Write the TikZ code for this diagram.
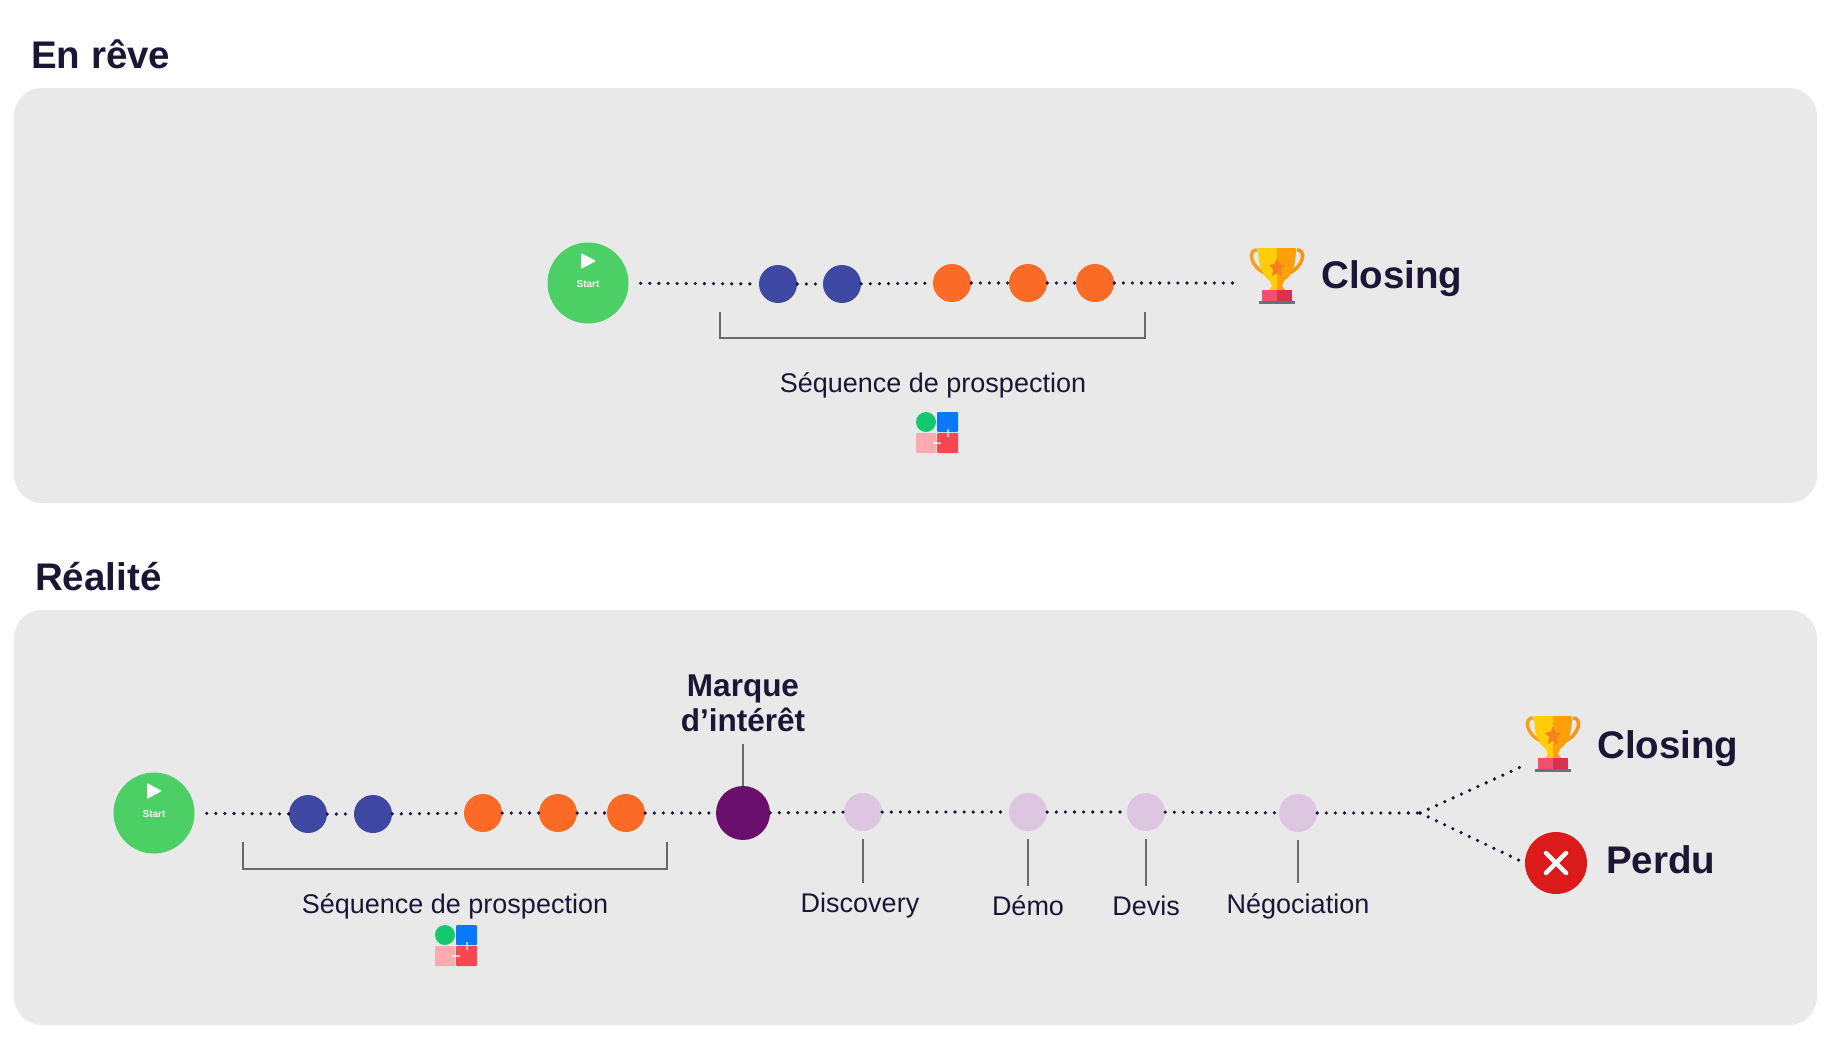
\documentclass[tikz,border=0pt]{standalone}
\usepackage{fontspec}
\usetikzlibrary{calc}
\setmainfont{Liberation Sans}
\definecolor{fond}{HTML}{E9E9E9}
\definecolor{encre}{HTML}{1C1536}
\definecolor{vert}{HTML}{4CCF64}
\definecolor{bleu}{HTML}{3E48A3}
\definecolor{orange}{HTML}{FB6B26}
\definecolor{violet}{HTML}{6B0F6F}
\definecolor{mauve}{HTML}{DCC6E0}
\definecolor{rouge}{HTML}{DB1A1A}
\definecolor{trait}{HTML}{6A6A6A}
\tikzset{
  panneau/.style={fill=fond,rounded corners=28pt,draw=none},
  titre/.style={font=\fontsize{38.5}{40}\selectfont\bfseries,text=encre,inner sep=0pt},
  grand/.style={font=\fontsize{38.5}{40}\selectfont\bfseries,text=encre,inner sep=0pt,anchor=west},
  moyen/.style={font=\fontsize{31.5}{35}\selectfont\bfseries,text=encre,align=center,inner sep=0pt},
  legende/.style={font=\fontsize{27}{30}\selectfont,text=encre,inner sep=2pt},
  rond/.style={circle,inner sep=0pt,minimum size=#1},
  depart/.style={rond=81pt,fill=vert},
  etapeb/.style={rond=38pt,fill=bleu},
  etapeo/.style={rond=38pt,fill=orange},
  etapem/.style={rond=38pt,fill=mauve},
  pointille/.style={line width=3.6pt,line cap=round,dash pattern=on 0pt off 9.1pt,draw=encre},
  crochet/.style={line width=1.3pt,draw=trait},
  % icone de depart
  pics/jouer/.style={code={
    \fill[white,rounded corners=1pt] (-7,-30)--(8,-22)--(-7,-14)--cycle;
    \node[white,font=\fontsize{10}{10}\selectfont\bfseries] (#1) at (0,1) {Start};
  }},
  % les quatre pieces
  pics/pieces/.style={code={
    \fill[fill={rgb,255:red,20;green,200;blue,110}] (-11,-11) circle (10);
    \fill[fill={rgb,255:red,10;green,120;blue,250},rounded corners=1pt] (0,-21) rectangle (21,-1);
    \fill[fill={rgb,255:red,255;green,170;blue,175},rounded corners=1pt] (-21,0) rectangle (-1,20);
    \fill[fill={rgb,255:red,250;green,70;blue,80},rounded corners=1pt] (0,0) rectangle (21,20);
    \fill[white,opacity=.6] (-4,9) rectangle (4,11) (10,-4) rectangle (12,4);
  }},
  pics/coupe/.style={code={
    \draw[line width=3.5pt,draw={rgb,255:red,245;green,160;blue,30}] (-20,-25) .. controls (-29,-26) and (-28,-8) .. (-10,-1);
    \draw[line width=3.5pt,draw={rgb,255:red,245;green,150;blue,20}] (20,-25) .. controls (29,-26) and (28,-8) .. (10,-1);
    \fill[fill={rgb,255:red,255;green,205;blue,10}] (-19,-27) -- (0,-27) -- (0,20) -- (-12,20) -- (-5,11) -- (-7,6) .. controls (-16,0) and (-19,-12) .. cycle;
    \fill[fill={rgb,255:red,255;green,160;blue,10}] (19,-27) -- (0,-27) -- (0,20) -- (12,20) -- (5,11) -- (7,6) .. controls (16,0) and (19,-12) .. cycle;
    \fill[fill={rgb,255:red,245;green,130;blue,30}] (0,-17) -- (2.5,-11) -- (8,-10) -- (4,-6) -- (5,1) -- (0,-2) -- (-5,1) -- (-4,-6) -- (-8,-10) -- (-2.5,-11) -- cycle;
    \fill[fill={rgb,255:red,240;green,80;blue,110}] (-15,15) rectangle (0,26);
    \fill[fill={rgb,255:red,215;green,50;blue,80}] (0,15) rectangle (15,26);
    \fill[fill={rgb,255:red,100;green,115;blue,120}] (-18,26) rectangle (18,29);
  }},
}
\begin{document}
\begin{tikzpicture}[x=1pt,y=-1pt]
\useasboundingbox (0,0) rectangle (1842,1050);
\fill[white] (0,0) rectangle (1842,1050);
\fill[panneau] (14,88) rectangle (1817,503);
\fill[panneau] (14,610) rectangle (1817,1025);
\node[titre,anchor=base west] (enreve) at (31,68) {En rêve};
\node[titre,anchor=base west] (realite) at (35,590) {Réalité};

% en reve
\node[depart] (startA) at (588,283) {};
\pic at (startA) {jouer=lblA};
\node[etapeb] (bA) at (778,284) {};
\node[etapeb] (bB) at (842,284) {};
\node[etapeo] (oA) at (952,283) {};
\node[etapeo] (oB) at (1028,283) {};
\node[etapeo] (oC) at (1095,283) {};
\coordinate (finA) at (1239,283);
\foreach \a/\b in {bA/bB,bB/oA,oA/oB,oB/oC,oC/finA}
  \draw[pointille] (\a)--(\b);
\draw[pointille,shorten <=12pt] (startA)--(bA);
\pic at (1277,275) {coupe};
\node[grand] (closeA) at (1321,279) {Closing};
\coordinate (crA) at (720,312);
\coordinate (crB) at (1145,312);
\draw[crochet] (crA)--++(0,26)-|(crB);
\node[legende] (seqA) at (933,385) {Séquence de prospection};
\pic at (937,433) {pieces};

% realite
\node[depart] (startB) at (154,813) {};
\pic at (startB) {jouer=lblB};
\node[etapeb] (bC) at (308,814) {};
\node[etapeb] (bD) at (373,814) {};
\node[etapeo] (oD) at (483,813) {};
\node[etapeo] (oE) at (558,813) {};
\node[etapeo] (oF) at (626,813) {};
\node[rond=54pt,fill=violet] (interet) at (743,813) {};
\node[etapem] (pA) at (863,812) {};
\node[etapem] (pB) at (1028,812) {};
\node[etapem] (pC) at (1146,812) {};
\node[etapem] (pD) at (1298,813) {};
\node[rond=62pt,fill=rouge] (perdu) at (1556,863) {};
\draw[white,line width=4.5pt,line cap=round]
  ($(perdu)+(-10,-10)$)--($(perdu)+(10,10)$)
  ($(perdu)+(-10,10)$)--($(perdu)+(10,-10)$);
\coordinate (fourche) at (1420,813);
\coordinate (finB) at (1525,765);
\foreach \a/\b in {bC/bD,bD/oD,oD/oE,oE/oF,oF/interet,interet/pA,pA/pB,pB/pC,pC/pD,pD/fourche}
  \draw[pointille] (\a)--(\b);
\draw[pointille,shorten <=12pt] (startB)--(bC);
\draw[pointille] (fourche)--(finB);
\draw[pointille] (fourche)--(perdu.west);
\pic at (1553,743) {coupe};
\node[grand] (closeB) at (1597,749) {Closing};
\node[grand] (lblperdu) at (1606,860) {Perdu};
\node[moyen] (marque) at (743,703) {Marque\\d’intérêt};
\draw[crochet,shorten >=12pt] (interet)--(interet|-marque.south);
\node[legende] (lA) at (860,906) {Discovery};
\node[legende] (lB) at (1028,906) {Démo};
\node[legende] (lC) at (1146,906) {Devis};
\node[legende] (lD) at (1298,906) {Négociation};
\foreach \a/\b in {pA/lA,pB/lB,pC/lC,pD/lD}
  \draw[crochet,shorten <=8pt,shorten >=8pt] (\a)--(\a|-\b.north);
\coordinate (crC) at (243,842);
\coordinate (crD) at (667,842);
\draw[crochet] (crC)--++(0,27)-|(crD);
\node[legende] (seqB) at (455,906) {Séquence de prospection};
\pic at (456,946) {pieces};
\end{tikzpicture}
\end{document}
